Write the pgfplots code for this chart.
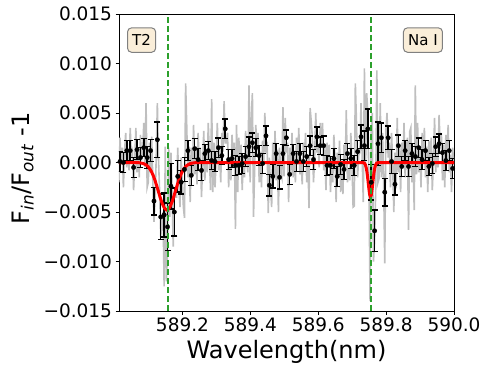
\documentclass[border=0pt]{standalone}
\usepackage{fontspec}
\setmainfont{DejaVu Sans}
\usepackage{pgfplots}
\pgfplotsset{compat=1.18}
\usepackage{pgfplotstable}

\definecolor{greyline}{RGB}{191,191,191}
\definecolor{fitred}{RGB}{255,0,0}
\definecolor{linegreen}{RGB}{44,160,44}
\definecolor{boxfill}{RGB}{250,238,217}
\definecolor{boxedge}{RGB}{128,128,128}

% unbinned ratio (grey)
\pgfplotstableread{
x y
589.0127 -0.0020
589.0160 0.0025
589.0193 -0.0002
589.0227 0.0015
589.0260 -0.0025
589.0293 0.0010
589.0327 0.0030
589.0360 -0.0005
589.0393 0.0012
589.0427 -0.0008
589.0460 0.0035
589.0493 0.0008
589.0527 0.0012
589.0560 -0.0028
589.0593 0.0002
589.0627 0.0035
589.0660 -0.0010
589.0693 0.0015
589.0727 -0.0015
589.0760 0.0028
589.0793 0.0002
589.0827 0.0010
589.0860 0.0040
589.0893 -0.0005
589.0927 0.0060
589.0960 -0.0025
589.0993 -0.0020
589.1027 0.0020
589.1060 -0.0010
589.1093 0.0026
589.1127 -0.0020
589.1160 -0.0060
589.1193 -0.0037
589.1227 0.0005
589.1260 0.0060
589.1293 0.0004
589.1327 -0.0030
589.1360 -0.0075
589.1393 -0.0060
589.1427 -0.0050
589.1460 -0.0125
589.1493 0.0016
589.1527 -0.0120
589.1560 -0.0090
589.1593 0.0015
589.1627 -0.0055
589.1660 0.0010
589.1693 -0.0027
589.1727 -0.0085
589.1760 -0.0030
589.1793 -0.0035
589.1827 -0.0035
589.1860 0.0015
589.1893 -0.0022
589.1927 -0.0045
589.1960 0.0005
589.1993 -0.0020
589.2027 -0.0045
589.2060 -0.0056
589.2093 0.0080
589.2127 0.0035
589.2160 -0.0015
589.2193 0.0016
589.2227 -0.0040
589.2260 0.0015
589.2293 -0.0014
589.2327 0.0038
589.2360 -0.0012
589.2393 0.0016
589.2427 -0.0022
589.2460 0.0030
589.2493 0.0001
589.2527 0.0015
589.2560 -0.0035
589.2593 -0.0004
589.2627 0.0032
589.2660 -0.0018
589.2693 0.0013
589.2727 -0.0010
589.2760 0.0040
589.2793 0.0006
589.2827 -0.0028
589.2860 0.0064
589.2893 -0.0030
589.2927 0.0020
589.2960 -0.0025
589.2993 0.0008
589.3027 0.0040
589.3060 -0.0008
589.3093 0.0013
589.3127 -0.0020
589.3160 0.0030
589.3193 0.0011
589.3227 0.0062
589.3260 0.0020
589.3293 0.0020
589.3327 0.0030
589.3360 -0.0025
589.3393 0.0004
589.3427 -0.0018
589.3460 0.0028
589.3493 0.0002
589.3527 0.0020
589.3560 -0.0067
589.3593 0.0038
589.3627 -0.0030
589.3660 0.0025
589.3693 -0.0004
589.3727 0.0018
589.3760 -0.0028
589.3793 0.0007
589.3827 -0.0015
589.3860 0.0032
589.3893 0.0001
589.3927 -0.0010
589.3960 0.0078
589.3993 -0.0020
589.4027 0.0045
589.4060 0.0070
589.4093 -0.0055
589.4127 -0.0005
589.4160 0.0038
589.4193 0.0012
589.4227 0.0030
589.4260 -0.0020
589.4293 0.0011
589.4327 -0.0025
589.4360 0.0022
589.4393 0.0000
589.4427 0.0050
589.4460 0.0010
589.4493 0.0021
589.4527 -0.0051
589.4560 0.0005
589.4593 -0.0023
589.4627 -0.0045
589.4660 0.0020
589.4693 -0.0017
589.4727 0.0032
589.4760 -0.0018
589.4793 0.0013
589.4827 -0.0050
589.4860 0.0015
589.4893 -0.0010
589.4927 -0.0015
589.4960 0.0056
589.4993 -0.0014
589.5027 0.0045
589.5060 0.0010
589.5093 0.0020
589.5127 -0.0040
589.5160 0.0015
589.5193 -0.0011
589.5227 0.0030
589.5260 -0.0015
589.5293 0.0012
589.5327 -0.0020
589.5360 0.0025
589.5393 -0.0002
589.5427 0.0035
589.5460 -0.0012
589.5493 0.0004
589.5527 -0.0022
589.5560 0.0020
589.5593 0.0005
589.5627 0.0030
589.5660 -0.0020
589.5693 0.0008
589.5727 -0.0046
589.5760 0.0055
589.5793 0.0042
589.5827 0.0025
589.5860 -0.0020
589.5893 0.0004
589.5927 0.0050
589.5960 0.0010
589.5993 0.0018
589.6027 -0.0005
589.6060 0.0040
589.6093 0.0016
589.6127 0.0040
589.6160 -0.0008
589.6193 0.0019
589.6227 -0.0028
589.6260 0.0020
589.6293 -0.0001
589.6327 0.0018
589.6360 -0.0030
589.6393 0.0003
589.6427 -0.0020
589.6460 0.0028
589.6493 0.0004
589.6527 -0.0040
589.6560 0.0010
589.6593 -0.0012
589.6627 0.0022
589.6660 -0.0030
589.6693 0.0002
589.6727 -0.0032
589.6760 0.0018
589.6793 -0.0007
589.6827 0.0053
589.6860 -0.0020
589.6893 -0.0006
589.6927 -0.0018
589.6960 0.0030
589.6993 0.0000
589.7027 -0.0045
589.7060 -0.0044
589.7093 0.0080
589.7127 0.0040
589.7160 -0.0015
589.7193 0.0008
589.7227 0.0010
589.7260 0.0060
589.7293 0.0008
589.7327 -0.0040
589.7360 0.0095
589.7393 -0.0004
589.7427 0.0070
589.7460 0.0050
589.7493 -0.0018
589.7527 -0.0140
589.7560 0.0030
589.7593 0.0050
589.7627 -0.0100
589.7660 -0.0080
589.7693 -0.0027
589.7727 0.0093
589.7760 -0.0020
589.7793 -0.0016
589.7827 0.0060
589.7860 -0.0015
589.7893 0.0030
589.7927 -0.0020
589.7960 -0.0102
589.7993 0.0032
589.8027 0.0050
589.8060 0.0005
589.8093 0.0020
589.8127 -0.0025
589.8160 0.0030
589.8193 -0.0002
589.8227 -0.0050
589.8260 0.0010
589.8293 -0.0026
589.8327 0.0045
589.8360 -0.0010
589.8393 0.0016
589.8427 -0.0030
589.8460 0.0020
589.8493 -0.0002
589.8527 0.0040
589.8560 -0.0015
589.8593 0.0011
589.8627 0.0025
589.8660 -0.0068
589.8693 0.0031
589.8727 0.0035
589.8760 -0.0020
589.8793 0.0012
589.8827 -0.0048
589.8860 0.0078
589.8893 -0.0012
589.8927 0.0040
589.8960 -0.0010
589.8993 0.0015
589.9027 -0.0025
589.9060 0.0030
589.9093 0.0004
589.9127 0.0035
589.9160 -0.0015
589.9193 0.0016
589.9227 -0.0030
589.9260 0.0022
589.9293 -0.0004
589.9327 0.0025
589.9360 -0.0028
589.9393 0.0000
589.9427 0.0045
589.9460 -0.0010
589.9493 0.0013
589.9527 -0.0005
589.9560 0.0048
589.9593 0.0014
589.9627 0.0030
589.9660 -0.0018
589.9693 0.0018
589.9727 -0.0025
589.9760 0.0028
589.9793 0.0003
589.9827 0.0038
589.9860 -0.0010
589.9893 0.0008
589.9927 -0.0030
589.9960 0.0015
589.9993 -0.0003
}\greydata

% binned points with errors
\pgfplotstableread{
x y e
589.016 0.0001 0.0010
589.026 0.0000 0.0010
589.036 0.0012 0.0010
589.046 0.0012 0.0010
589.056 -0.0005 0.0010
589.066 0.0013 0.0010
589.076 0.0005 0.0010
589.086 0.0015 0.0009
589.096 0.0005 0.0011
589.106 0.0012 0.0011
589.116 -0.0039 0.0014
589.126 0.0023 0.0018
589.136 -0.0055 0.0023
589.146 -0.0053 0.0022
589.156 -0.0065 0.0024
589.166 -0.0024 0.0023
589.176 -0.0050 0.0024
589.186 -0.0014 0.0016
589.196 -0.0020 0.0012
589.206 -0.0007 0.0012
589.216 0.0012 0.0010
589.226 -0.0013 0.0010
589.236 0.0014 0.0010
589.246 0.0003 0.0011
589.256 -0.0008 0.0010
589.266 0.0009 0.0009
589.276 0.0012 0.0009
589.286 0.0002 0.0009
589.296 0.0001 0.0010
589.306 0.0015 0.0010
589.316 0.0007 0.0009
589.326 0.0034 0.0010
589.336 0.0003 0.0010
589.346 0.0004 0.0009
589.356 -0.0003 0.0010
589.366 -0.0003 0.0009
589.376 -0.0001 0.0010
589.386 0.0006 0.0010
589.396 0.0016 0.0010
589.406 0.0020 0.0010
589.416 0.0015 0.0009
589.426 0.0007 0.0010
589.436 -0.0001 0.0010
589.446 0.0027 0.0010
589.456 -0.0023 0.0011
589.466 -0.0014 0.0012
589.476 0.0009 0.0010
589.486 -0.0015 0.0012
589.496 0.0009 0.0009
589.506 0.0025 0.0008
589.516 -0.0012 0.0010
589.526 0.0009 0.0009
589.536 0.0001 0.0010
589.546 0.0009 0.0010
589.556 0.0001 0.0010
589.566 0.0006 0.0010
589.576 0.0017 0.0010
589.586 0.0003 0.0010
589.596 0.0026 0.0010
589.606 0.0017 0.0009
589.616 0.0017 0.0010
589.626 -0.0003 0.0010
589.636 -0.0003 0.0009
589.646 0.0004 0.0010
589.656 -0.0014 0.0010
589.666 -0.0002 0.0010
589.676 -0.0007 0.0010
589.686 0.0009 0.0010
589.696 0.0004 0.0010
589.706 -0.0003 0.0010
589.716 0.0011 0.0011
589.726 0.0026 0.0012
589.736 0.0017 0.0015
589.746 0.0034 0.0020
589.756 -0.0020 0.0018
589.766 -0.0069 0.0021
589.776 0.0019 0.0022
589.786 0.0025 0.0015
589.796 -0.0030 0.0014
589.806 0.0025 0.0012
589.816 0.0001 0.0012
589.826 -0.0022 0.0011
589.836 0.0017 0.0011
589.846 -0.0004 0.0010
589.856 0.0012 0.0010
589.866 -0.0004 0.0010
589.876 0.0009 0.0010
589.886 0.0006 0.0010
589.896 0.0015 0.0010
589.906 0.0003 0.0010
589.916 0.0012 0.0010
589.926 -0.0004 0.0009
589.936 -0.0001 0.0010
589.946 0.0016 0.0010
589.956 0.0019 0.0010
589.966 0.0010 0.0009
589.976 0.0002 0.0010
589.986 0.0012 0.0010
589.996 -0.0006 0.0010
}\binned

% gaussian fit, sampled
\pgfplotstableread{
x y
589.013 0
589.067 0
589.074 -0.00003
589.084 -0.000095
589.094 -0.00027
589.099 -0.00043
589.104 -0.00065
589.109 -0.00095
589.114 -0.00133
589.119 -0.0018
589.124 -0.00234
589.129 -0.00291
589.134 -0.00349
589.139 -0.00401
589.144 -0.00443
589.149 -0.0047
589.154 -0.0048
589.159 -0.0047
589.164 -0.00443
589.169 -0.00401
589.174 -0.00349
589.179 -0.00291
589.184 -0.00234
589.189 -0.0018
589.194 -0.00133
589.199 -0.00095
589.204 -0.00065
589.209 -0.00043
589.214 -0.00027
589.224 -0.000095
589.234 -0.00003
589.244 0
589.729 0
589.734 -0.00003
589.7365 -0.00009
589.739 -0.00024
589.7415 -0.00055
589.744 -0.00107
589.7465 -0.0018
589.749 -0.0026
589.7515 -0.00325
589.754 -0.0035
589.7565 -0.00325
589.759 -0.0026
589.7615 -0.0018
589.764 -0.00107
589.7665 -0.00055
589.769 -0.00024
589.7715 -0.00009
589.774 -0.00003
589.779 0
590.000 0
}\fitdata

\begin{document}
\begin{tikzpicture}
\useasboundingbox (-119pt,-61pt) rectangle (370pt,311pt);
\begin{axis}[
  at={(0,0)}, anchor=south west,
  scale only axis, width=335pt, height=297pt,
  xmin=589.013, xmax=590.0, ymin=-0.015, ymax=0.015,
  xtick={589.2,589.4,589.6,589.8,590.0},
  xticklabels={589.2,589.4,589.6,589.8,590.0},
  ytick={-0.015,-0.01,-0.005,0,0.005,0.01,0.015},
  yticklabels={−0.015,−0.010,−0.005,0.000,0.005,0.010,0.015},
  scaled ticks=false,
  tick align=outside, tick pos=left, major tick length=3.5pt,
  tick style={black, line width=0.8pt},
  axis line style={line width=0.8pt},
  ticklabel style={font=\fontsize{18.5}{21}\selectfont},
  xlabel={Wavelength(nm)},
  ylabel={F\textsubscript{\textit{in}}/F\textsubscript{\textit{out}} -1},
  xlabel style={font=\fontsize{24}{28}\selectfont, at={(axis description cs:0.5,0)}, anchor=base, yshift=-47pt},
  ylabel style={font=\fontsize{24}{28}\selectfont, at={(axis description cs:-0.267,0.48)}, anchor=base},
]
\addplot[greyline, line width=1.6pt, no markers] table[x=x, y=y] {\greydata};
\addplot[black, only marks, mark=*, mark size=2.2pt,
  error bars/.cd, y dir=both, y explicit,
  error bar style={line width=1.5pt, black},
  error mark options={rotate=90, black, line width=1.5pt, mark size=3pt}]
  table[x=x, y=y, y error=e] {\binned};
\addplot[fitred, line width=3pt, no markers] table[x=x, y=y] {\fitdata};
\addplot[linegreen, line width=2pt, dash pattern=on 6pt off 3pt] coordinates {(589.156,-0.015) (589.156,0.015)};
\addplot[linegreen, line width=2pt, dash pattern=on 6pt off 3pt] coordinates {(589.754,-0.015) (589.754,0.015)};
\node[draw=boxedge, fill=boxfill, rounded corners=4pt, line width=1pt, inner xsep=4.7pt, minimum height=24.4pt,
  font=\fontsize{15}{18}\selectfont, anchor=north west] at (axis description cs:0.024,0.955) {T2};
\node[draw=boxedge, fill=boxfill, rounded corners=4pt, line width=1pt, inner xsep=4.7pt, minimum height=24.4pt,
  font=\fontsize{15}{18}\selectfont, anchor=north east] at (axis description cs:0.967,0.955) {Na I};
\end{axis}
\end{tikzpicture}
\end{document}
